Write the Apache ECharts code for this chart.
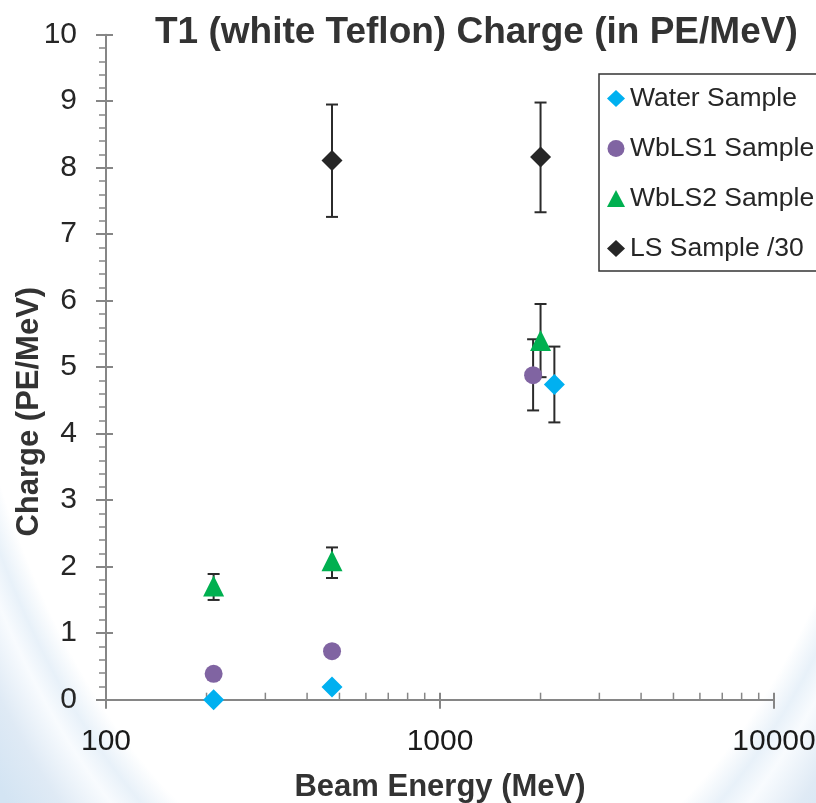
<!DOCTYPE html>
<html>
<head>
<meta charset="utf-8">
<script src="https://cdn.jsdelivr.net/npm/echarts@6/dist/echarts.min.js"></script>
<style>html,body{margin:0;padding:0;background:#fff}#c{width:816px;height:803px}</style>
</head>
<body>
<div id="c"></div>
<script>
// ---- data ----
const seriesNames = ['Water Sample', 'WbLS1 Sample', 'WbLS2 Sample', 'LS Sample /30'];

const waterX = [210, 475, 2200];
const waterY = [0.0, 0.19, 4.74];
const waterErrLow = [null, null, 4.17];
const waterErrHigh = [null, null, 5.31];

const wbls1X = [210, 475, 1900];
const wbls1Y = [0.39, 0.73, 4.88];
const wbls1ErrLow = [null, null, 4.35];
const wbls1ErrHigh = [null, null, 5.42];

const wbls2X = [210, 475, 2000];
const wbls2Y = [1.71, 2.09, 5.40];
const wbls2ErrLow = [1.50, 1.83, 4.85];
const wbls2ErrHigh = [1.89, 2.29, 5.95];

const lsX = [475, 2000];
const lsY = [8.11, 8.16];
const lsErrLow = [7.26, 7.33];
const lsErrHigh = [8.95, 8.98];

const xTickLabels = ['100', '1000', '10000'];
const xMinorTicks = [200, 300, 400, 500, 600, 700, 800, 900, 2000, 3000, 4000, 5000, 6000, 7000, 8000, 9000];
const yTickLabels = ['0','1','2','3','4','5','6','7','8','9','10'];

const colors = ['#00b0f0', '#8064a2', '#00b050', '#262626'];
const symbols = ['diamond', 'circle', 'triangle', 'diamond'];
const sizes = [21, 18, 21, 21];

function pts(xs, ys) { return xs.map((x, i) => [x, ys[i]]); }
function errs(xs, lo, hi) {
  const out = [];
  xs.forEach((x, i) => { if (lo[i] != null && hi[i] != null) out.push([x, lo[i], hi[i]]); });
  return out;
}

const axisGray = '#868686';
const errColor = '#2b2b2b';

function errRender(params, api) {
  const xv = api.value(0), lo = api.value(1), hi = api.value(2);
  const a = api.coord([xv, hi]);
  const b = api.coord([xv, lo]);
  const half = 6;
  const st = { stroke: errColor, lineWidth: 2 };
  return {
    type: 'group',
    children: [
      { type: 'line', shape: { x1: a[0], y1: a[1], x2: b[0], y2: b[1] }, style: st },
      { type: 'line', shape: { x1: a[0] - half, y1: a[1], x2: a[0] + half, y2: a[1] }, style: st },
      { type: 'line', shape: { x1: b[0] - half, y1: b[1], x2: b[0] + half, y2: b[1] }, style: st }
    ]
  };
}

function minorTickRender(params, api) {
  const p = api.coord([api.value(0), 0]);
  return { type: 'line', shape: { x1: p[0], y1: p[1], x2: p[0], y2: p[1] - 7 }, style: { stroke: axisGray, lineWidth: 1.5 } };
}

const scatterData = [pts(waterX, waterY), pts(wbls1X, wbls1Y), pts(wbls2X, wbls2Y), pts(lsX, lsY)];
const errData = [errs(waterX, waterErrLow, waterErrHigh), errs(wbls1X, wbls1ErrLow, wbls1ErrHigh),
                 errs(wbls2X, wbls2ErrLow, wbls2ErrHigh), errs(lsX, lsErrLow, lsErrHigh)];

const series = [];
series.push({
  type: 'custom', name: 'xminor', renderItem: minorTickRender, silent: true, z: 3,
  data: xMinorTicks.map(v => [v, 0]), encode: { x: 0, y: 1 }, clip: false
});
for (let i = 0; i < 4; i++) {
  series.push({
    type: 'custom', name: 'err' + i, renderItem: errRender, silent: true, z: 4,
    data: errData[i], encode: { x: 0, y: [1, 2] }, clip: false
  });
}
for (let i = 0; i < 4; i++) {
  series.push({
    type: 'scatter', name: seriesNames[i], data: scatterData[i],
    symbol: symbols[i], symbolSize: sizes[i], z: 5,
    itemStyle: { color: colors[i], opacity: 1 }
  });
}

const labelFont = 'Liberation Sans, Arial, sans-serif';

const option = {
  animation: false,
  backgroundColor: '#ffffff',
  textStyle: { fontFamily: labelFont },
  graphic: [{
    type: 'rect', silent: true, z: -11,
    shape: { x: 0, y: 0, width: 816, height: 803 },
    style: { fill: '#d3e4f3' }
  }, {
    type: 'circle', silent: true, z: -10,
    x: 430, y: 100, scaleX: 0.593, scaleY: 1,
    shape: { cx: 0, cy: 0, r: 1000 },
    style: {
      fill: {
        type: 'radial', x: 0, y: 0, r: 1000, global: true,
        colorStops: [
          { offset: 0, color: '#ffffff' },
          { offset: 0.82, color: '#ffffff' },
          { offset: 0.855, color: '#e8f1f9' },
          { offset: 0.885, color: '#f8fbfe' },
          { offset: 0.94, color: '#dfeaf5' },
          { offset: 1, color: '#d3e4f3' }
        ]
      }
    }
  }],
  title: {
    text: 'T1 (white Teflon) Charge (in PE/MeV)',
    left: 150, top: 9,
    textStyle: { fontSize: 37, fontWeight: 'bold', color: '#333333', fontFamily: labelFont }
  },
  legend: {
    orient: 'vertical', left: 599, top: 74,
    padding: [11, 40, 9, 8],
    itemGap: 23, itemWidth: 18, itemHeight: 17,
    backgroundColor: '#ffffff', borderColor: '#333333', borderWidth: 1.5,
    data: seriesNames,
    textStyle: { fontSize: 26.5, lineHeight: 26, color: '#262626', fontFamily: labelFont }
  },
  grid: { left: 106, right: 42, top: 34.7, bottom: 103.3, containLabel: false, outerBoundsMode: 'none' },
  xAxis: [{
    type: 'log', logBase: 10, min: 100, max: 10000, splitNumber: 2,
    name: 'Beam Energy (MeV)', nameLocation: 'middle', nameGap: 72, nameMoveOverlap: false,
    nameTextStyle: { fontSize: 31, fontWeight: 'bold', color: '#333333', fontFamily: labelFont },
    axisLine: { show: true, onZero: false, lineStyle: { color: axisGray, width: 2 } },
    axisTick: { show: true, inside: false, length: 9, lineStyle: { color: axisGray, width: 2 } },
    minorTick: { show: false },
    splitLine: { show: false },
    axisLabel: {
      fontSize: 30, color: '#1a1a1a', margin: 27, fontFamily: labelFont,
      formatter: v => { const i = Math.round(Math.log10(v)) - 2; return xTickLabels[i] != null ? xTickLabels[i] : ''; }
    }
  }, {
    type: 'log', logBase: 10, min: 100, max: 10000, splitNumber: 2, position: 'bottom', offset: 0,
    axisLine: { show: false },
    axisTick: { show: true, inside: true, length: 7, lineStyle: { color: axisGray, width: 2 } },
    axisLabel: { show: false }, splitLine: { show: false }
  }],
  yAxis: [{
    type: 'value', min: 0, max: 10, interval: 1,
    name: 'Charge (PE/MeV)', nameLocation: 'middle', nameGap: 61, nameRotate: 90, nameMoveOverlap: false,
    nameTextStyle: { fontSize: 31, fontWeight: 'bold', color: '#333333', fontFamily: labelFont, padding: [0, 89, 0, 0] },
    axisLine: { show: true, lineStyle: { color: axisGray, width: 2 } },
    axisTick: { show: true, inside: false, length: 10, lineStyle: { color: axisGray, width: 2 } },
    minorTick: { show: true, splitNumber: 5, length: 7, lineStyle: { color: axisGray, width: 1.5 } },
    splitLine: { show: false },
    axisLabel: {
      fontSize: 30, color: '#262626', margin: 29, fontFamily: labelFont,
      formatter: v => yTickLabels[Math.round(v)]
    }
  }, {
    type: 'value', min: 0, max: 10, interval: 1, position: 'left', offset: 0,
    axisLine: { show: false },
    axisTick: { show: true, inside: true, length: 7, lineStyle: { color: axisGray, width: 2 } },
    axisLabel: { show: false }, splitLine: { show: false }
  }],
  series: series
};

const chart = echarts.init(document.getElementById('c'), null, { renderer: 'canvas' });
chart.setOption(option);
</script>
</body>
</html>
